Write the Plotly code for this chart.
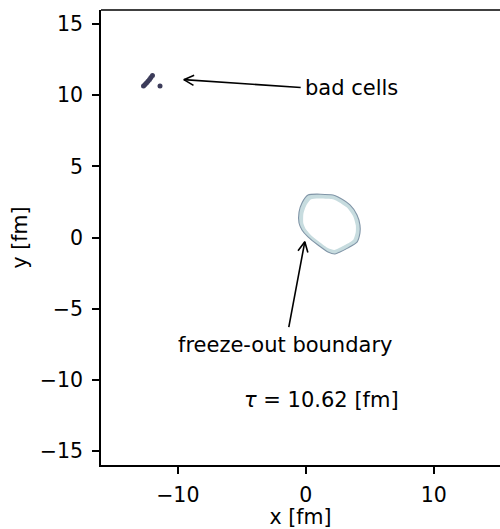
import math
import plotly.graph_objects as go

# Freeze-out hypersurface outline at tau = 10.62 fm (x, y in fm)
ring_x = [0.17, 2.13, 2.52, 3.45, 4.00, 4.23, 4.23, 4.00, 3.30, 2.67, 2.28,
          1.73, 0.95, 0.17, -0.30, -0.53, -0.53, -0.30, 0.17]
ring_y = [2.99, 2.99, 2.85, 2.29, 1.59, 0.88, 0.32, -0.32, -0.73, -1.02, -1.16,
          -1.02, -0.53, 0.04, 0.53, 1.02, 1.79, 2.43, 2.99]

# Cells flagged as bad
bad_x = [-12.68, -12.56, -12.45, -12.33, -12.21, -12.10, -11.98, -11.39]
bad_y = [10.66, 10.76, 10.87, 10.99, 11.11, 11.25, 11.39, 10.66]

tau = 10.62

# Annotation arrows: (tip, tail) in data coordinates
arrow_bad = ((-9.53, 11.10), (-0.40, 10.55))
arrow_fo = ((-0.08, -0.30), (-1.33, -6.30))

x_ticks = [-10, 0, 10]
y_ticks = [-15, -10, -5, 0, 5, 10, 15]

W, H = 500, 529
M_L, M_R, M_T, M_B = 101, 0, 10, 64
X_RANGE = [-16, 15.17]
Y_RANGE = [-16, 16]
FONT = "DejaVu Sans"
FS = 21
TFS = 20.5

px_x = (W - M_L - M_R) / (X_RANGE[1] - X_RANGE[0])
px_y = (H - M_T - M_B) / (Y_RANGE[1] - Y_RANGE[0])

fig = go.Figure()

# outer contour band
fig.add_trace(go.Scatter(
    x=ring_x, y=ring_y, mode="lines", fill="toself",
    fillcolor="#c7dcdf", line=dict(color="#8095a7", width=1.1, shape="spline", smoothing=0.6),
    hoverinfo="skip", showlegend=False))

# interior of the freeze-out region
cx = sum(ring_x[:-1]) / len(ring_x[:-1])
cy = sum(ring_y[:-1]) / len(ring_y[:-1])
k = 0.86
fig.add_trace(go.Scatter(
    x=[cx + k * (v - cx) for v in ring_x],
    y=[cy + k * (v - cy) for v in ring_y],
    mode="lines", fill="toself", fillcolor="white",
    line=dict(color="rgba(0,0,0,0)", width=0, shape="spline", smoothing=0.6),
    hoverinfo="skip", showlegend=False))

fig.add_trace(go.Scatter(
    x=bad_x, y=bad_y, mode="markers",
    marker=dict(color="#3c3c5a", size=5, line=dict(width=0)),
    hoverinfo="skip", showlegend=False))


def add_arrow(tip, tail, head_len=10, head_w=5):
    # shaft
    fig.add_trace(go.Scatter(
        x=[tail[0], tip[0]], y=[tail[1], tip[1]], mode="lines",
        line=dict(color="black", width=1.6), hoverinfo="skip",
        showlegend=False))
    # open arrow head, built in pixel space
    dxp = (tail[0] - tip[0]) * px_x
    dyp = (tail[1] - tip[1]) * px_y
    L = math.hypot(dxp, dyp)
    ux, uy = dxp / L, dyp / L
    nx, ny = -uy, ux
    hx, hy = [], []
    for s in (1, -1):
        bx = head_len * ux + s * head_w * nx
        by = head_len * uy + s * head_w * ny
        hx.append(tip[0] + bx / px_x)
        hy.append(tip[1] + by / px_y)
    fig.add_trace(go.Scatter(
        x=[hx[0], tip[0], hx[1]], y=[hy[0], tip[1], hy[1]], mode="lines",
        line=dict(color="black", width=1.6), hoverinfo="skip",
        showlegend=False))


add_arrow(*arrow_bad)
add_arrow(*arrow_fo)

fig.add_annotation(x=-0.2, y=10.5, text="bad cells", showarrow=False,
                   xanchor="left", yanchor="middle",
                   font=dict(family=FONT, size=FS, color="black"))
fig.add_annotation(x=-1.6, y=-7.55, text="freeze-out boundary", showarrow=False,
                   xanchor="center", yanchor="middle",
                   font=dict(family=FONT, size=FS, color="black"))
fig.add_annotation(x=-5.0, y=-11.45,
                   text=f"<i>τ</i> = {tau:.2f} [fm]", showarrow=False,
                   xanchor="left", yanchor="middle",
                   font=dict(family=FONT, size=FS, color="black"))

# top spine
fig.add_shape(type="line", xref="paper", yref="paper", x0=0, x1=1, y0=1, y1=1,
              line=dict(color="black", width=1.6))

axis_common = dict(
    showgrid=False, zeroline=False, showline=True, linecolor="black",
    linewidth=1.6, ticks="outside", ticklen=7, tickwidth=1.6,
    tickcolor="black", tickfont=dict(family=FONT, size=TFS, color="black"),
    mirror=False,
)

fig.update_layout(
    width=W, height=H,
    margin=dict(l=M_L, r=M_R, t=M_T, b=M_B),
    paper_bgcolor="white", plot_bgcolor="white",
    xaxis=dict(range=X_RANGE, tickvals=x_ticks,
               ticktext=[str(v).replace("-", "\u2212") for v in x_ticks],
               title=dict(text="x [fm]", font=dict(family=FONT, size=TFS, color="black"),
                          standoff=5),
               ticklabelstandoff=4, **axis_common),
    yaxis=dict(range=Y_RANGE, tickvals=y_ticks,
               ticktext=[str(v).replace("-", "\u2212") for v in y_ticks],
               title=dict(text="y [fm]", font=dict(family=FONT, size=TFS, color="black"),
                          standoff=7),
               ticklabelstandoff=5, **axis_common),
)

fig.write_html("out.html")
